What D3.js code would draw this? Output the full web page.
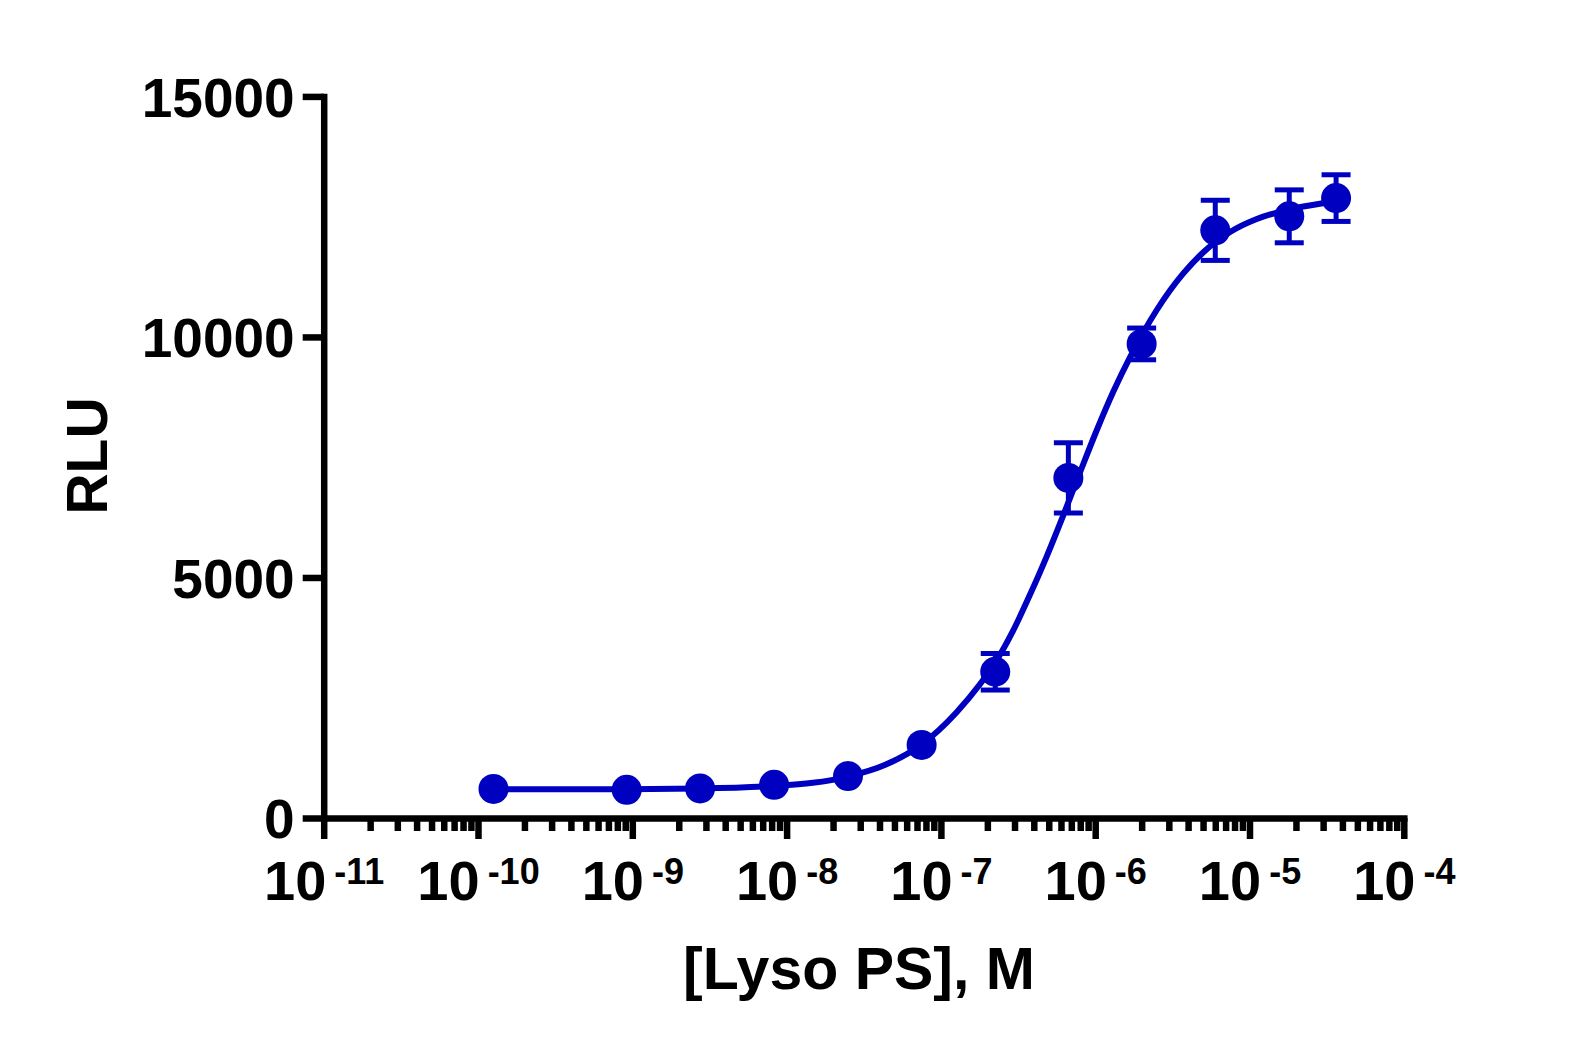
<!DOCTYPE html>
<html lang="en">

<head>
    <meta charset="UTF-8">
    <title>Lyso PS dose response</title>
    <style>
        body {
            margin: 0;
            padding: 0;
            background: #fff;
        }

        svg text {
            font-family: "Liberation Sans", Arial, sans-serif;
            font-weight: 700;
            fill: #000;
        }

        .axis path,
        .axis line {
            stroke: #000;
            stroke-width: 6.5px;
        }

        .axis path {
            stroke-linecap: square;
        }
    </style>
</head>

<body>
    <svg id="chart"></svg>

    <script src="https://cdnjs.cloudflare.com/ajax/libs/d3/7.9.0/d3.min.js"></script>
    <script>
        // measured points: concentration (M), mean RLU, error (null = hidden behind symbol)
        const concM = [1.26e-10, 9.2e-10, 2.75e-9, 8.3e-9, 2.5e-8, 7.5e-8, 2.25e-7, 6.7e-7, 2.0e-6, 6.0e-6, 1.81e-5, 3.64e-5];
        const rlu = [605, 585, 615, 690, 872, 1520, 3040, 7070, 9855, 12216, 12507, 12886];
        const rluErr = [null, null, null, null, null, null, 380, 730, 330, 625, 550, 485];

        // fitted curve (log10 M, RLU)
        const fitLogM = [-9.901, -9.036, -8.561, -8.082, -7.602, -7.364, -7.124, -6.898, -6.747, -6.65, -6.531, -6.423,
            -6.314, -6.207, -6.099, -5.990, -5.883, -5.774, -5.601, -5.429, -5.299, -5.126, -4.953, -4.781, -4.651, -4.439];
        const fitRLU = [598, 600, 612, 665, 860, 1100, 1530, 2200, 2780, 3220, 3900, 4640,
            5440, 6290, 7180, 8060, 8860, 9580, 10560, 11320, 11760, 12180, 12450, 12620, 12710, 12820];

        const xMajorExp = [-11, -10, -9, -8, -7, -6, -5, -4];
        const yTicks = [0, 5000, 10000, 15000];

        const width = 1575;
        const height = 1058;
        const color = '#0000c0';

        const svg = d3.select('#chart')
            .attr('width', width)
            .attr('height', height);

        const x = d3.scaleLog()
            .domain([1e-11, 1e-4])
            .range([323.7, 1403.8]);

        const y = d3.scaleLinear()
            .domain([0, 15000])
            .range([818, 96.4]);

        // x axis: minor ticks first, then major ticks with labels
        const minorTicks = x.ticks().filter(v => Math.abs(Math.log10(v) - Math.round(Math.log10(v))) > 1e-6);

        svg.append('g')
            .attr('class', 'axis')
            .attr('transform', `translate(0,${y(0)})`)
            .call(d3.axisBottom(x).tickValues(minorTicks).tickSize(13).tickSizeOuter(0).tickFormat(''))
            .call(g => g.select('.domain').remove());

        const xAxis = svg.append('g')
            .attr('class', 'axis')
            .attr('transform', `translate(0,${y(0)})`)
            .call(d3.axisBottom(x)
                .tickValues(xMajorExp.map(e => Math.pow(10, e)))
                .tickSize(21)
                .tickSizeOuter(0)
                .tickFormat(''));

        xAxis.selectAll('.tick')
            .data(xMajorExp)
            .append('text')
            .attr('y', 82)
            .attr('text-anchor', 'middle')
            .style('font-size', '56px')
            .call(t => t.append('tspan').text('10'))
            .call(t => t.append('tspan')
                .attr('dx', 8)
                .attr('dy', -16)
                .style('font-size', '36px')
                .text(d => d));

        // y axis
        const yAxis = svg.append('g')
            .attr('class', 'axis')
            .attr('transform', `translate(${x(1e-11)},0)`)
            .call(d3.axisLeft(y)
                .tickValues(yTicks)
                .tickSize(21)
                .tickSizeOuter(0)
                .tickFormat(d => d));

        yAxis.selectAll('.tick text')
            .attr('x', -29)
            .attr('dy', '0.36em')
            .style('font-size', '55px')
            .style('font-family', '"Liberation Sans", Arial, sans-serif');

        // axis titles
        svg.append('text')
            .attr('x', 859)
            .attr('y', 989)
            .attr('text-anchor', 'middle')
            .style('font-size', '59px')
            .text('[Lyso PS], M');

        svg.append('text')
            .attr('transform', 'translate(107,456) rotate(-90)')
            .attr('text-anchor', 'middle')
            .style('font-size', '57px')
            .text('RLU');

        // fitted curve
        const line = d3.line()
            .x(d => x(Math.pow(10, d[0])))
            .y(d => y(d[1]))
            .curve(d3.curveMonotoneX);

        svg.append('path')
            .datum(fitLogM.map((v, i) => [v, fitRLU[i]]))
            .attr('d', line)
            .attr('fill', 'none')
            .attr('stroke', color)
            .attr('stroke-width', 6);

        const points = concM.map((c, i) => ({ c: c, v: rlu[i], e: rluErr[i] }));

        // error bars
        const bars = svg.append('g')
            .selectAll('g')
            .data(points.filter(d => d.e !== null))
            .enter().append('g')
            .attr('stroke', color)
            .attr('stroke-width', 5);

        bars.append('line')
            .attr('x1', d => x(d.c))
            .attr('x2', d => x(d.c))
            .attr('y1', d => y(d.v - d.e))
            .attr('y2', d => y(d.v + d.e));

        [-1, 1].forEach(s => {
            bars.append('line')
                .attr('x1', d => x(d.c) - 14.5)
                .attr('x2', d => x(d.c) + 14.5)
                .attr('y1', d => y(d.v + s * d.e))
                .attr('y2', d => y(d.v + s * d.e));
        });

        // symbols
        svg.append('g')
            .selectAll('circle')
            .data(points)
            .enter().append('circle')
            .attr('cx', d => x(d.c))
            .attr('cy', d => y(d.v))
            .attr('r', 15)
            .attr('fill', color);
    </script>
</body>

</html>
